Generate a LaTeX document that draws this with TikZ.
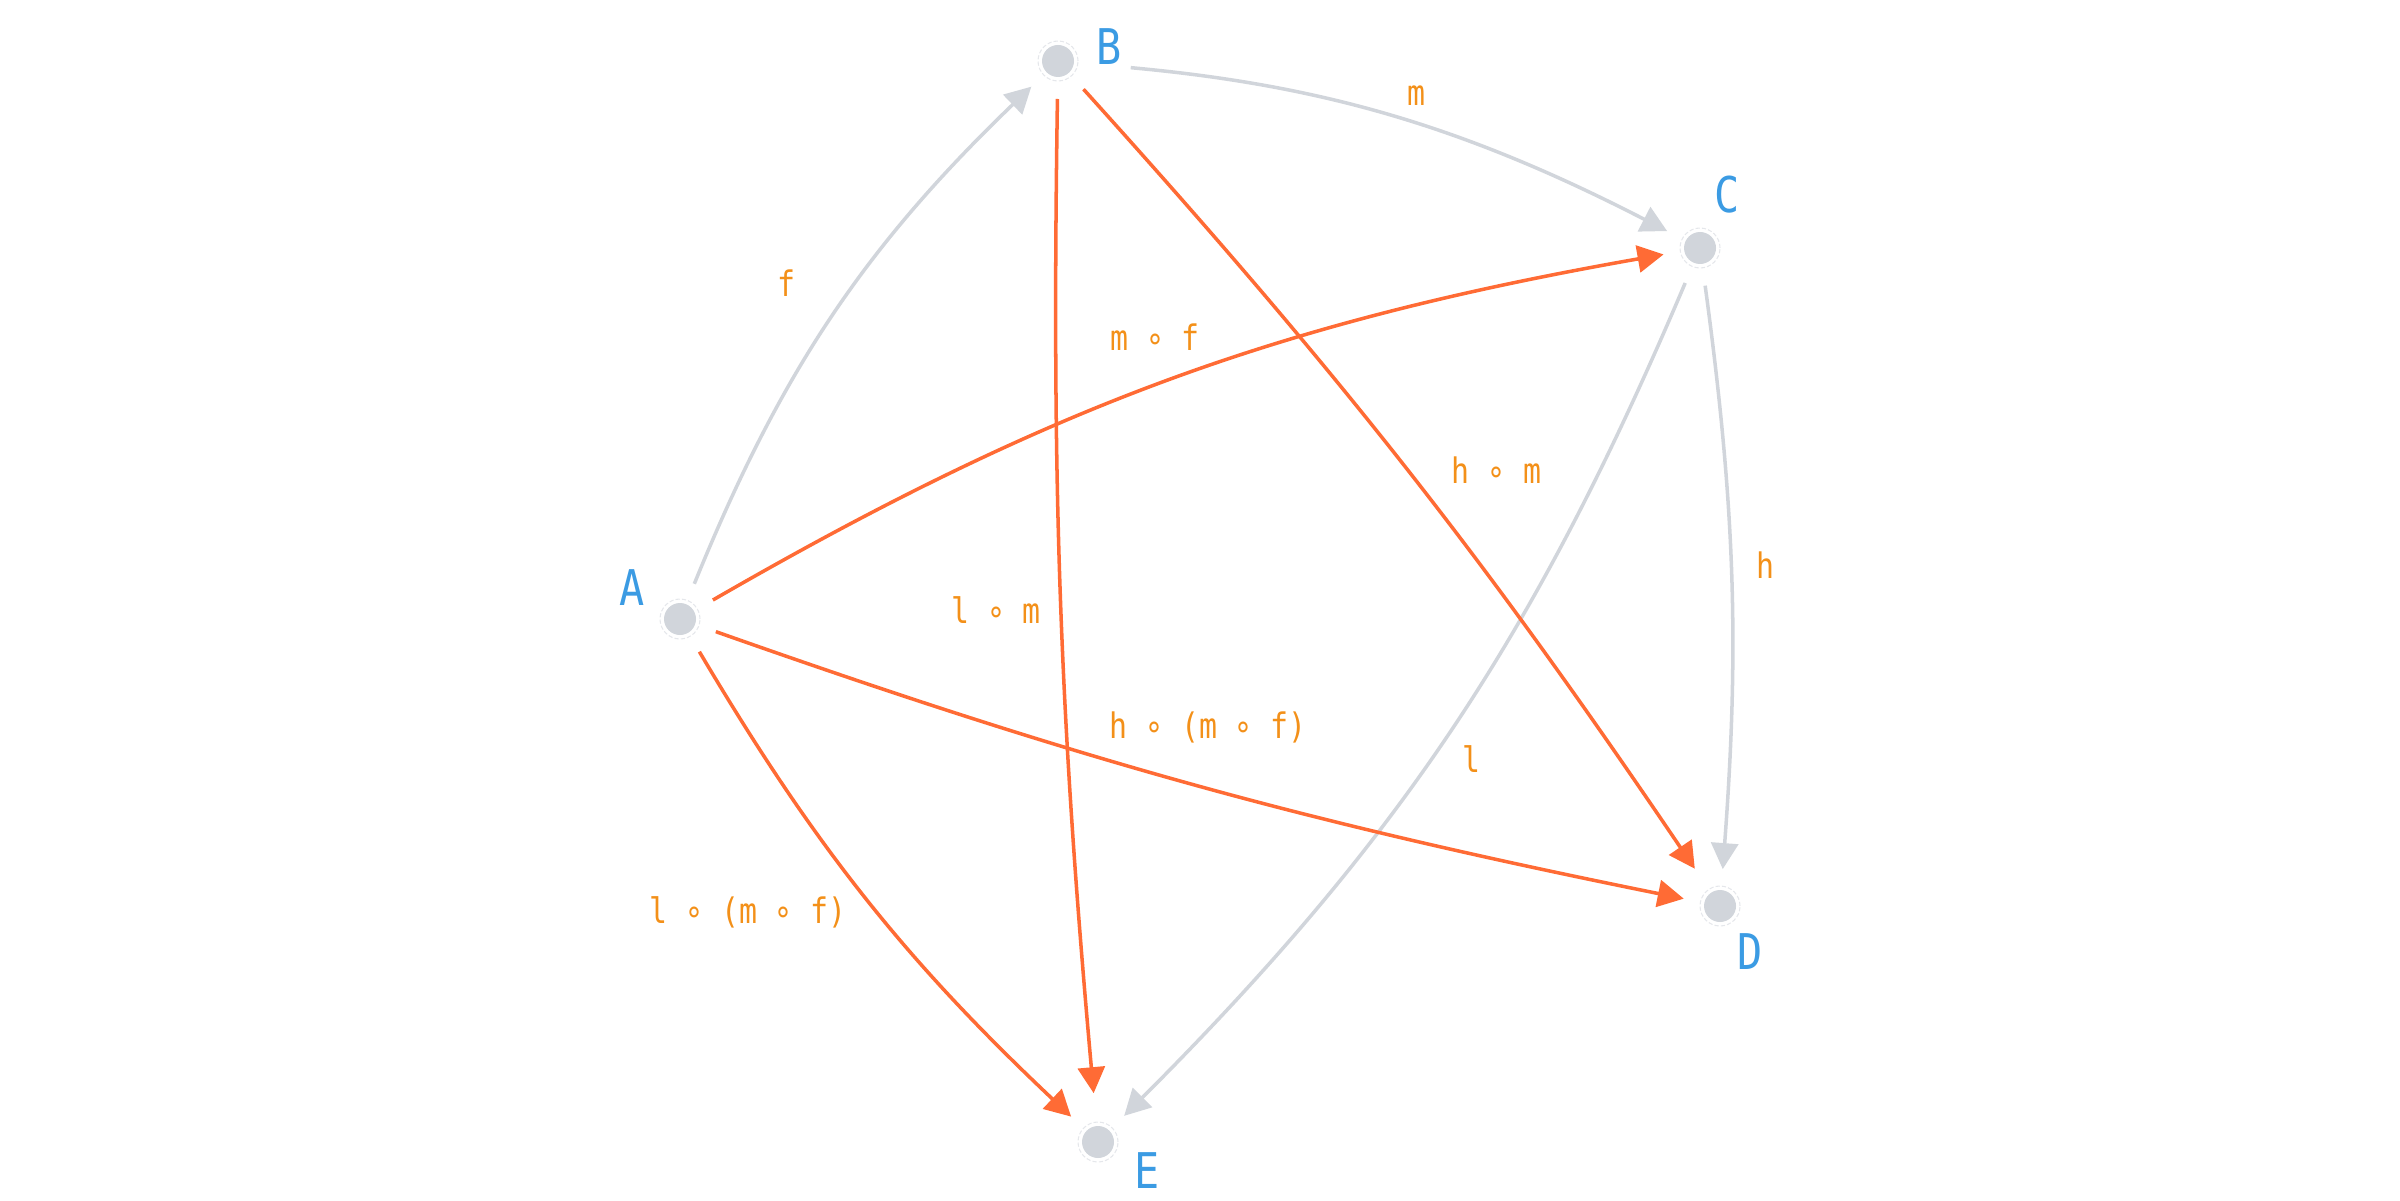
\documentclass[tikz,border=0pt]{standalone}
\usepackage{fontspec}
\usetikzlibrary{arrows.meta}
\newfontfamily\monofont[FakeStretch=0.85]{DejaVu Sans Mono}
\definecolor{vertexgray}{HTML}{D1D5DB}
\definecolor{ringgray}{HTML}{E5E7EB}
\definecolor{arrowgray}{HTML}{D1D5DB}
\definecolor{composeorange}{HTML}{FF6B35}
\definecolor{labelorange}{HTML}{F39019}
\definecolor{vertexblue}{HTML}{3B9BE3}
\tikzset{
graydot/.style={circle, fill=vertexgray, draw=none, inner sep=0pt, outer sep=0pt, minimum size=3.2mm},
dotring/.style={draw=ringgray, line width=0.3pt, dash pattern=on 1.2pt off 0.6pt},
vertexname/.style={text=vertexblue, font=\monofont\fontsize{14}{14}\selectfont, inner sep=0pt, anchor=base},
arrowlabel/.style={text=labelorange, font=\monofont\fontsize{10}{10}\selectfont, inner sep=0pt, anchor=base},
grayarrow/.style={draw=arrowgray, line width=1pt, -{Triangle[length=2.6mm,width=2.7mm]}, shorten <=2.2mm, shorten >=2.1mm},
orangearrow/.style={draw=composeorange, line width=1pt, -{Triangle[length=2.6mm,width=2.7mm]}, shorten <=2.2mm, shorten >=2.1mm},
}

\begin{document}
\begin{tikzpicture}
  \useasboundingbox (0,0) rectangle (24,12);

  \node[graydot] at (6.80,5.81) (A) {};
  \node[graydot] at (10.58,11.39) (B) {};
  \node[graydot] at (17.00,9.52) (C) {};
  \node[graydot] at (17.20,2.94) (D) {};
  \node[graydot] at (10.98,0.58) (E) {};
  \foreach \v in {A,B,C,D,E}
    \draw[dotring] (\v) circle (0.2);

  \node[vertexname] at (6.32,5.95) (Aname) {A};
  \node[vertexname] at (11.09,11.35) (Bname) {B};
  \node[vertexname] at (17.27,9.87) (Cname) {C};
  \node[vertexname] at (17.50,2.31) (Dname) {D};
  \node[vertexname] at (11.47,0.12) (Ename) {E};

  % the given arrows
  \draw[grayarrow] (A) to[bend left=12] (B);
  \draw[grayarrow, shorten <=5.7mm] (B) to[bend left=11] (C);
  \draw[grayarrow] (C) to[bend left=6] (D);
  \draw[grayarrow] (C) to[bend left=11] (E);

  % the composites
  \draw[orangearrow] (A) to[bend left=10] (C);
  \draw[orangearrow] (A) to[bend right=4] (D);
  \draw[orangearrow] (A) to[bend right=8] (E);
  \draw[orangearrow, shorten >=2.9mm] (B) to[bend left=4] (D);
  \draw[orangearrow, shorten >=3.3mm] (B) to[bend right=3] (E);

  \node[arrowlabel] at (7.86,9.03) (flab) {f};
  \node[arrowlabel] at (14.16,10.94) (mlab) {m};
  \node[arrowlabel] at (17.65,6.22) (hlab) {h};
  \node[arrowlabel] at (14.71,4.28) (llab) {l};
  \node[arrowlabel] at (11.55,8.50) (mflab) {m ∘ f};
  \node[arrowlabel] at (14.96,7.17) (hmlab) {h ∘ m};
  \node[arrowlabel] at (9.96,5.77) (lmlab) {l ∘ m};
  \node[arrowlabel] at (12.08,4.62) (hmflab) {h ∘ (m ∘ f)};
  \node[arrowlabel] at (7.48,2.77) (lmflab) {l ∘ (m ∘ f)};
\end{tikzpicture}
\end{document}
